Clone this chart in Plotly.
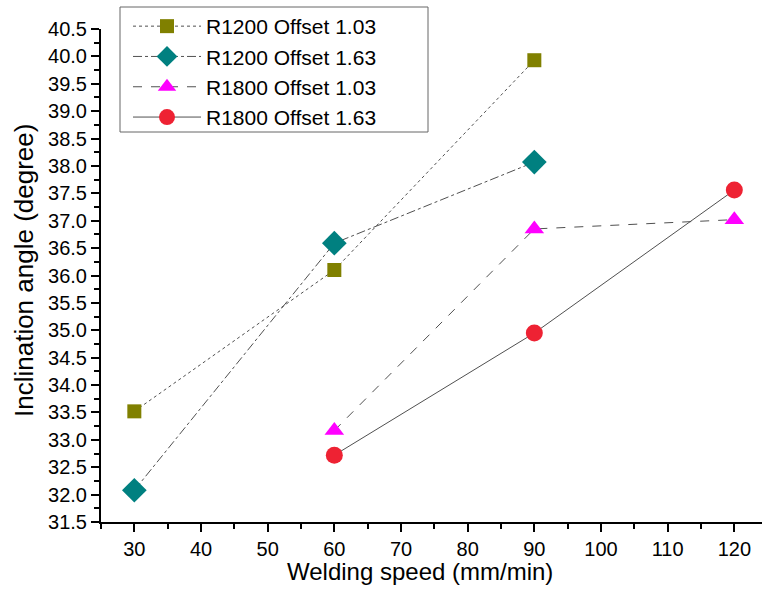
import plotly.graph_objects as go

speed_a = [30, 60, 90]
r1200_103 = [33.52, 36.10, 39.93]
r1200_163 = [32.08, 36.59, 38.07]
speed_b = [60, 90, 120]
r1800_103 = [33.17, 36.85, 37.02]
r1800_163 = [32.72, 34.95, 37.56]

names = ["R1200 Offset 1.03", "R1200 Offset 1.63", "R1800 Offset 1.03", "R1800 Offset 1.63"]
xs = [speed_a, speed_a, speed_b, speed_b]
ys = [r1200_103, r1200_163, r1800_103, r1800_163]
colors = ["#808000", "#008080", "#FF00FF", "#EE2233"]
symbols = ["square", "diamond", "triangle-up", "circle"]
sizes = [14, 19, 17, 17]
dashes = ["dot", "dashdot", "dash", "solid"]
x_title = "Welding speed (mm/min)"
y_title = "Inclination angle (degree)"

fig = go.Figure()
for n, x, y, c, s, sz, d in zip(names, xs, ys, colors, symbols, sizes, dashes):
    fig.add_trace(go.Scatter(
        x=x, y=y, name=n, mode="lines+markers",
        line=dict(color="#505050", width=1, dash=d),
        marker=dict(color=c, symbol=s, size=sz, line=dict(width=0)),
    ))

font = "Liberation Sans, Arial, sans-serif"
L, T, W, H = 101, 29, 661, 493
def px_x(p):
    return (p - L) / W
def px_y(p):
    return 1 - (p - T) / H

fig.add_shape(type="rect", xref="paper", yref="paper",
              x0=px_x(120), x1=px_x(428), y0=px_y(132), y1=px_y(7),
              line=dict(color="#666666", width=1), fillcolor="white", layer="below")

fig.add_annotation(text=x_title, xref="paper", yref="paper", x=px_x(420), y=px_y(571),
                   xanchor="center", yanchor="middle", showarrow=False,
                   font=dict(size=24, family=font, color="black"))
fig.add_annotation(text=y_title, xref="paper", yref="paper", x=px_x(24), y=px_y(271),
                   xanchor="center", yanchor="middle", showarrow=False, textangle=-90,
                   font=dict(size=26, family=font, color="black"))

fig.update_layout(
    width=762, height=589,
    margin=dict(l=L, r=0, t=T, b=67),
    paper_bgcolor="white", plot_bgcolor="white",
    font=dict(family=font, size=20, color="black"),
    showlegend=True,
    legend=dict(
        x=px_x(128), y=px_y(6), xanchor="left", yanchor="top",
        bgcolor="rgba(0,0,0,0)", borderwidth=0,
        font=dict(size=21, family=font), itemwidth=68,
    ),
    xaxis=dict(
        range=[25, 124.15], tickvals=[30, 40, 50, 60, 70, 80, 90, 100, 110, 120],
        showgrid=False, zeroline=False, showline=True, linecolor="black", linewidth=2,
        ticks="outside", ticklen=8, tickwidth=2, tickcolor="black",
        minor=dict(tickvals=[25, 35, 45, 55, 65, 75, 85, 95, 105, 115], ticks="outside", ticklen=5, tickwidth=2, tickcolor="black"),
        tickfont=dict(size=20),
    ),
    yaxis=dict(
        range=[31.5, 40.5], dtick=0.5, tick0=31.5, tickformat=".1f",
        showgrid=False, zeroline=False, showline=True, linecolor="black", linewidth=2,
        ticks="outside", ticklen=8, tickwidth=2, tickcolor="black",
        minor=dict(dtick=0.25, ticks="outside", ticklen=5, tickwidth=2, tickcolor="black"),
        tickfont=dict(size=20),
    ),
)
fig.write_html("out.html")
